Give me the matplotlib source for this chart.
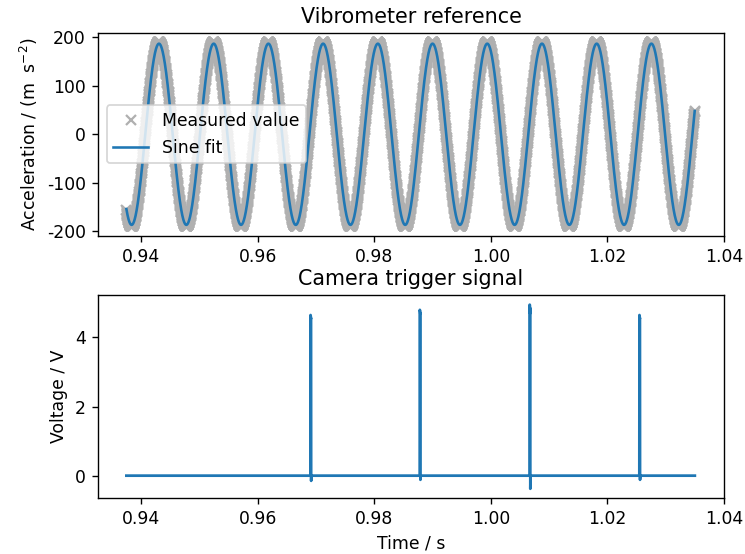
import numpy as np
import matplotlib
matplotlib.use("Agg")
import matplotlib.pyplot as plt

plt.rcParams['axes.unicode_minus'] = False

# ---- data ----
t_start, t_end = 0.9375, 1.0350          # recording window / s
sample_rate = 40000.0                    # Hz (dense sampling of vibrometer)
fit_amplitude = 187.0                    # m s^-2
measured_amplitude = 190.0               # m s^-2
fit_frequency = 106.56                   # Hz
fit_peak_time = 0.94309                  # s, time of a maximum

spike_times = [0.96909, 0.98783, 1.00668, 1.02550]   # s
spike_peaks = [4.65, 4.80, 4.95, 4.65]               # V
spike_notch = [4.55, 4.70, 4.70, 4.55]               # V (second top level)
spike_dips = [-0.15, -0.12, -0.38, -0.12]            # V undershoot
baseline = 0.0

# ---- build series ----
t = np.arange(t_start, t_end, 1.0 / sample_rate)
phase = 2 * np.pi * fit_frequency * (t - fit_peak_time)
measured = measured_amplitude * np.cos(phase)
fit = fit_amplitude * np.cos(phase)

eps = 0.00002
w = 0.00008
tv = [t_start]
vv = [baseline]
for ts, pk, nt, dp in zip(spike_times, spike_peaks, spike_notch, spike_dips):
    tv += [ts - eps, ts, ts + w, ts + w, ts + w + eps, ts + w + 3 * eps]
    vv += [baseline, pk, nt, pk * 0.98, dp, baseline]
tv.append(t_end)
vv.append(baseline)

# ---- figure ----
DPI = 124
fig = plt.figure(figsize=(745 / DPI, 554 / DPI), dpi=DPI)
ax1 = fig.add_subplot(2, 1, 1)
ax2 = fig.add_subplot(2, 1, 2)
fig.subplots_adjust(left=0.1315, right=0.9718, top=0.9404, bottom=0.1011, hspace=0.296)

ax1.plot(t, measured, linestyle='none', marker='x', color='#b0b0b0', ms=5.5, mew=1.3,
         label='Measured value')
ax1.plot(t, fit, color='#1f77b4', lw=1.5, label='Sine fit')
ax1.set_title('Vibrometer reference')
ax1.set_ylabel(r'Acceleration / (m  s$^{-2}$)')
ax1.legend(loc='center left')
ax1.set_xticks([0.94, 0.96, 0.98, 1.00, 1.02, 1.04])

ax2.plot(tv, vv, color='#1f77b4', lw=1.6)
ax2.set_title('Camera trigger signal')
ax2.set_ylabel('Voltage / V')
ax2.set_xlabel('Time / s')
ax2.set_xticks([0.94, 0.96, 0.98, 1.00, 1.02, 1.04])
ax2.set_yticks([0, 2, 4])

fig.savefig('out.png', dpi=DPI)
